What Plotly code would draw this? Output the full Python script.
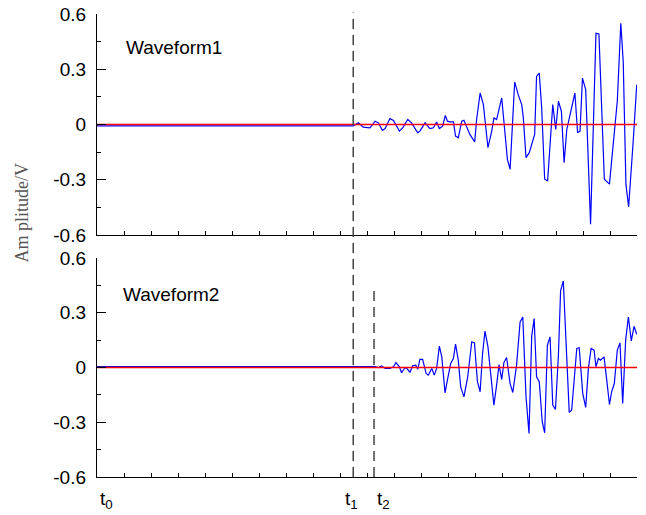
import plotly.graph_objects as go

# ---- data (sample index vs amplitude in V) ----
t_w1 = [0, 94.9, 96.8, 98.6, 101.1, 103.0, 104.2, 105.7, 106.7, 108.5, 109.8, 112.0, 113.2,
        115.1, 116.5, 118.8, 119.6, 121.5, 123.3, 124.6, 125.8, 126.8, 128.0, 129.0, 129.8,
        130.7, 132.0, 132.8, 133.8, 135.1, 135.9, 136.7, 138.1, 139.9, 140.6, 141.9, 143.1,
        144.8, 146.2, 147.0, 148.0, 149.9, 151.1, 152.0, 153.0, 154.7, 156.0, 157.3, 157.9,
        158.9, 160.1, 161.6, 162.1, 162.8, 163.8, 164.7, 165.8, 166.9, 168.8, 169.9, 170.9,
        172.0, 173.0, 174.0, 175.2, 177.0, 178.0, 178.9, 179.8, 181.0, 182.8, 184.8, 185.9,
        187.9, 189.8, 191.9, 192.7, 194.0, 194.9, 195.9, 196.9, 198.6, 199.9]
a_w1 = [-0.007, -0.007, 0.009, -0.014, -0.018, 0.018, 0.009, -0.032, -0.022, 0.032, 0.022,
        -0.036, -0.018, 0.027, 0.009, -0.045, -0.036, 0.009, -0.022, -0.018, 0.014, -0.022,
        -0.009, 0.049, 0.018, 0.014, 0.014, -0.063, -0.072, 0.018, 0.023, -0.004, -0.054,
        -0.094, 0.027, 0.171, 0.108, -0.126, -0.036, 0.036, 0.027, 0.144, -0.036, -0.189,
        -0.243, 0.231, 0.162, 0.108, 0.036, -0.180, -0.153, -0.072, -0.054, 0.261, 0.279,
        0.090, -0.297, -0.306, 0.108, -0.027, 0.126, 0.072, -0.207, -0.027, 0.054, 0.171,
        -0.045, -0.036, 0.252, 0.189, -0.541, 0.495, 0.492, -0.297, -0.324, -0.018, 0.126,
        0.550, 0.342, -0.324, -0.447, -0.090, 0.216]

t_w2 = [0, 103.0, 104.2, 105.4, 106.7, 108.5, 109.8, 110.7, 112.0, 112.8, 114.1, 114.9, 115.9,
        116.9, 118.1, 118.8, 119.6, 120.6, 121.9, 122.7, 124.0, 124.9, 125.8, 126.8, 127.7,
        128.9, 129.9, 131.0, 132.0, 132.8, 133.8, 134.7, 135.9, 137.3, 138.8, 139.8, 140.9,
        141.9, 142.8, 143.7, 144.8, 145.8, 147.0, 148.0, 148.9, 149.9, 150.7, 151.7, 153.0,
        154.0, 155.4, 156.7, 157.7, 158.9, 160.0, 161.0, 161.9, 162.8, 163.8, 164.9, 165.8,
        166.8, 167.8, 168.8, 169.8, 170.9, 171.7, 172.7, 174.0, 174.9, 175.8, 176.8, 177.7,
        178.6, 179.9, 181.0, 182.0, 183.0, 184.1, 184.8, 185.7, 186.5, 187.8, 188.8, 189.8,
        190.6, 191.6, 192.7, 193.7, 194.7, 195.8, 196.8, 197.9, 198.9, 199.9]
a_w2 = [0.005, 0.005, 0.0, 0.009, -0.005, -0.005, 0.004, 0.027, 0.004, -0.029, 0.0, -0.007,
        -0.027, 0.009, 0.013, -0.009, 0.044, 0.044, -0.033, -0.042, -0.005, -0.042, -0.005,
        0.117, 0.058, -0.139, -0.060, 0.022, 0.049, 0.128, 0.040, -0.106, -0.161, -0.051,
        0.141, 0.135, -0.078, -0.133, 0.077, 0.199, 0.113, -0.042, -0.206, -0.097, 0.016,
        -0.066, 0.027, 0.055, -0.088, -0.137, 0.013, 0.250, 0.277, -0.161, -0.361, 0.172,
        0.268, -0.051, -0.078, -0.297, -0.358, 0.122, 0.168, -0.206, -0.230, 0.068, 0.420,
        0.474, 0.058, -0.246, -0.234, -0.078, 0.104, 0.108, -0.142, -0.219, -0.005, 0.104,
        0.095, 0.004, 0.049, 0.040, 0.058, -0.069, -0.203, -0.133, -0.088, 0.095, 0.135,
        -0.197, 0.150, 0.277, 0.146, 0.226, 0.182]

baseline_t = [0, 200]
baseline_a = [0, 0]

t0, t1, t2 = 0, 94.9, 102.6
time_labels = ["t<sub>0</sub>", "t<sub>1</sub>", "t<sub>2</sub>"]
panel_titles = ["Waveform1", "Waveform2"]
y_ticks = [-0.6, -0.3, 0, 0.3, 0.6]
y_ticktext = ["-0.6", "-0.3", "0", "0.3", "0.6"]

BLUE = "#0000ff"
RED = "#ff0000"

fig = go.Figure()
fig.add_trace(go.Scatter(x=t_w1, y=a_w1, mode="lines", line=dict(color=BLUE, width=1.2),
                         xaxis="x", yaxis="y", showlegend=False))
fig.add_trace(go.Scatter(x=baseline_t, y=baseline_a, mode="lines", line=dict(color=RED, width=1.5),
                         xaxis="x", yaxis="y", showlegend=False))
fig.add_trace(go.Scatter(x=t_w2, y=a_w2, mode="lines", line=dict(color=BLUE, width=1.2),
                         xaxis="x2", yaxis="y2", showlegend=False))
fig.add_trace(go.Scatter(x=baseline_t, y=baseline_a, mode="lines", line=dict(color=RED, width=1.5),
                         xaxis="x2", yaxis="y2", showlegend=False))

xax = dict(range=[0, 200], showgrid=False, zeroline=False, showline=True, linecolor="black",
           linewidth=1.3, ticks="inside", ticklen=4, tickcolor="black", dtick=10, tick0=0,
           showticklabels=False, automargin=False)
yax = dict(range=[-0.6, 0.6], showgrid=False, zeroline=False, showline=True, linecolor="black",
           linewidth=1.3, ticks="inside", ticklen=9, tickcolor="black", tickvals=y_ticks,
           ticktext=y_ticktext, tickfont=dict(family="Arial, Liberation Sans", size=19, color="black"),
           ticklabelstandoff=6, automargin=False,
           minor=dict(ticks="inside", ticklen=4, dtick=0.15, tick0=0, tickcolor="black"))

top_dom = [0.5227, 1.0]
bot_dom = [0.0, 0.473]

fig.update_layout(
    width=646, height=515,
    margin=dict(l=97, r=9, t=14, b=38, autoexpand=False),
    paper_bgcolor="white", plot_bgcolor="white",
    xaxis=dict(xax, domain=[0, 1], anchor="y"),
    yaxis=dict(yax, domain=top_dom, anchor="x"),
    xaxis2=dict(xax, domain=[0, 1], anchor="y2"),
    yaxis2=dict(yax, domain=bot_dom, anchor="x2"),
)

dash = "10px,6px"
fig.add_shape(type="line", xref="x", yref="paper", x0=t1, x1=t1, y0=0, y1=1.003,
              line=dict(color="#444444", width=1.5, dash=dash))
fig.add_shape(type="line", xref="x2", yref="paper", x0=t2, x1=t2, y0=0, y1=0.41,
              line=dict(color="#444444", width=1.5, dash=dash))

fig.add_annotation(text=panel_titles[0], xref="x", yref="y", x=10, y=0.42, xanchor="left",
                   yanchor="middle", showarrow=False,
                   font=dict(family="Arial, Liberation Sans", size=19, color="black"))
fig.add_annotation(text=panel_titles[1], xref="x2", yref="y2", x=9, y=0.40, xanchor="left",
                   yanchor="middle", showarrow=False,
                   font=dict(family="Arial, Liberation Sans", size=19, color="black"))

for tx, lab, anchor in zip([t0, t1, t2], time_labels, ["left", "center", "left"]):
    fig.add_annotation(text=lab, xref="x2", yref="paper", x=tx, y=0, yshift=-23,
                       xanchor=anchor, yanchor="middle", showarrow=False,
                       xshift=(-2 if anchor == "center" else 1),
                       font=dict(family="Arial, Liberation Sans", size=19, color="black"))

fig.add_annotation(text="Am plitude/V", xref="paper", yref="paper", x=-0.139, y=0.571,
                   xanchor="center", yanchor="middle", textangle=-90, showarrow=False,
                   font=dict(family="Liberation Serif, Times New Roman, serif", size=18, color="#555555"))

fig.write_html("out.html", config={"displayModeBar": False},
               post_script="document.body.style.margin='0';document.body.style.overflow='hidden';")
